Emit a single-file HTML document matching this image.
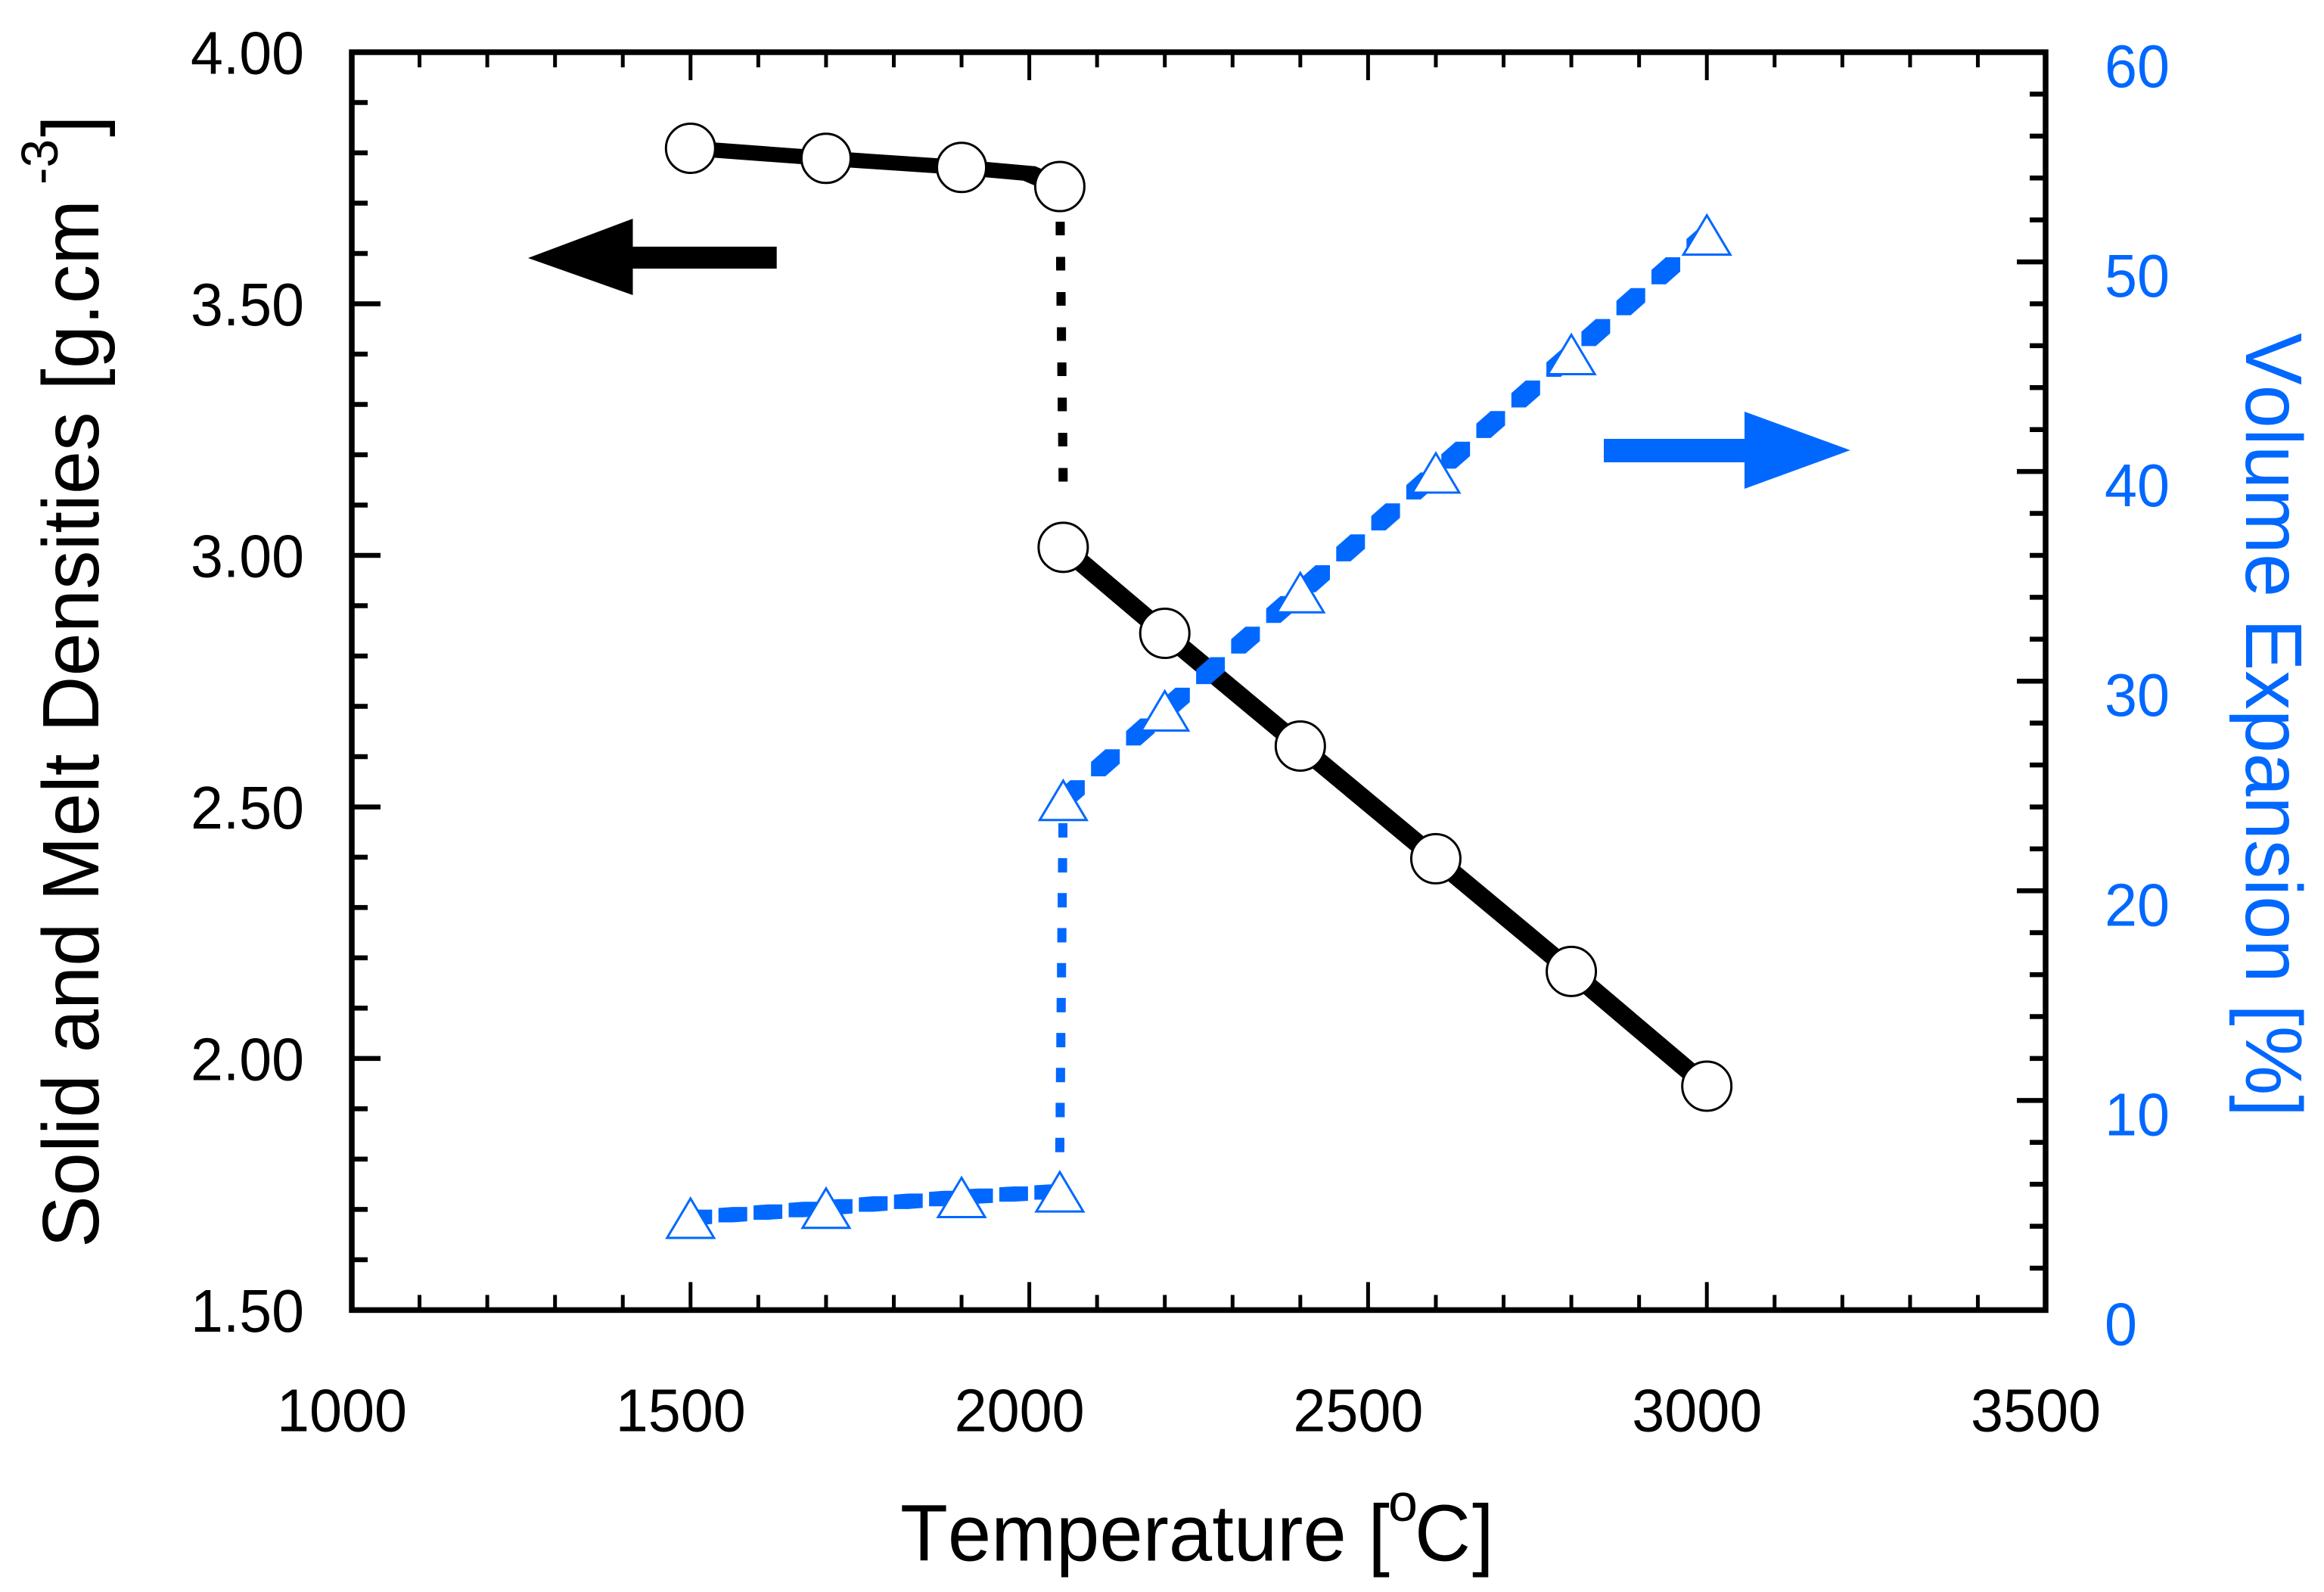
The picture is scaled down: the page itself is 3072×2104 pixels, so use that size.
<!DOCTYPE html>
<html lang="en">
<head>
<meta charset="utf-8">
<title>Solid and Melt Densities and Volume Expansion vs Temperature</title>
<style>
html,body{margin:0;padding:0;background:#fff;}
svg{display:block;}
text{font-family:"Liberation Sans",Arial,sans-serif;font-kerning:none;}
</style>
</head>
<body>
<svg id="chart" xmlns="http://www.w3.org/2000/svg" width="3072" height="2104" viewBox="0 0 3072 2104">
  <rect x="0" y="0" width="3072" height="2104" fill="#ffffff"/>
  <g id="ticks"></g>
  <rect x="465" y="69" width="2239" height="1662.4" fill="none" stroke="#000" stroke-width="7.5"/>
  <g id="labels" font-size="80"></g>
  <g id="marks"></g>

  <polygon points="698,341 836.5,289 836.5,326 1026.7,326 1026.7,355 836.5,355 836.5,390" fill="#000"/>
  <polygon points="2445.8,595 2306,544 2306,580 2120,580 2120,611 2306,611 2306,646" fill="#0068ff"/>

  <g fill="#000">
    <text font-size="106" x="1190" y="2062.5" textLength="647" lengthAdjust="spacingAndGlyphs">Temperature [</text>
    <text font-size="70" x="1835" y="2010">o</text>
    <text font-size="106" x="1870" y="2062.5" textLength="74" lengthAdjust="spacingAndGlyphs">C</text>
    <text font-size="106" x="1946" y="2062.5" textLength="28.6" lengthAdjust="spacingAndGlyphs">]</text>
  </g>

  <g transform="translate(130,1649) rotate(-90)" fill="#000">
    <text font-size="106" x="0" y="0" textLength="1385" lengthAdjust="spacingAndGlyphs">Solid and Melt Densities [g.cm</text>
    <text font-size="69" x="1405" y="-54" textLength="60" lengthAdjust="spacingAndGlyphs">-3</text>
    <text font-size="106" x="1468" y="0" textLength="28.6" lengthAdjust="spacingAndGlyphs">]</text>
  </g>

  <text font-size="106" fill="#0068ff" transform="translate(2969,440) rotate(90)" x="0" y="0" textLength="1036" lengthAdjust="spacingAndGlyphs">Volume Expansion [%]</text>
</svg>

<script>
// ---- chart data ----
const xTickLabels = ['1000', '1500', '2000', '2500', '3000', '3500'];
const leftTickLabels = ['1.50', '2.00', '2.50', '3.00', '3.50', '4.00'];
const rightTickLabels = ['0', '10', '20', '30', '40', '50', '60'];

const densityMarkerT = [1500, 1700, 1900, 2045, 2050, 2200, 2400, 2600, 2800, 3000];
const densityMarkerV = [3.809, 3.789, 3.771, 3.733, 3.016, 2.845, 2.621, 2.397, 2.173, 1.945];

const solidLineT = [1500, 1700, 1900, 2000, 2045];
const solidLineV = [3.809, 3.789, 3.771, 3.759, 3.733];
const meltLineT = [2050, 2200, 2400, 2600, 2800, 3000];
const meltLineV = [3.016, 2.845, 2.621, 2.397, 2.173, 1.945];
const densityJumpT = [2045, 2050];
const densityJumpV = [3.724, 3.145];

const expansionMarkerT = [1500, 1700, 1900, 2045, 2050, 2200, 2400, 2600, 2800, 3000];
const expansionMarkerV = [4.40, 4.88, 5.39, 5.66, 24.33, 28.6, 34.24, 39.95, 45.6, 51.3];

const solidExpansionT = [1500, 1700, 1900, 2045];
const solidExpansionV = [4.40, 4.88, 5.39, 5.66];
const meltExpansionT = [2050, 2200, 2400, 2600, 2800, 3000];
const meltExpansionV = [24.33, 28.6, 34.24, 39.95, 45.6, 51.3];
const expansionJumpT = [2045, 2050];
const expansionJumpV = [7.75, 24.33];

// ---- axis functions ----
const BLUE = '#0068ff';
const SVG_NS = 'http://www.w3.org/2000/svg';
const PLOT = { left: 465, right: 2704, top: 69, bottom: 1731.4 };
const X_MIN = 1000, X_MAX = 3500, L_MIN = 1.5, L_MAX = 4, R_MIN = 0, R_MAX = 60;

function xPos(t) { return PLOT.left + (t - X_MIN) / (X_MAX - X_MIN) * (PLOT.right - PLOT.left); }
function yLeft(v) { return PLOT.bottom - (v - L_MIN) / (L_MAX - L_MIN) * (PLOT.bottom - PLOT.top); }
function yRight(v) { return PLOT.bottom - (v - R_MIN) / (R_MAX - R_MIN) * (PLOT.bottom - PLOT.top); }

function make(tag, parent) {
  const el = document.createElementNS(SVG_NS, tag);
  parent.appendChild(el);
  return el;
}

// ---- ticks ----
const tickGroup = document.getElementById('ticks');
function tickLine(x1, y1, x2, y2, w, name) {
  const el = make('line', tickGroup);
  el.setAttribute('x1', x1);
  el.setAttribute('y1', y1);
  el.setAttribute('x2', x2);
  el.setAttribute('y2', y2);
  el.setAttribute('stroke', '#000');
  el.setAttribute('stroke-width', w);
  
  
}
for (let i = 1; i < 25; i++) {
  const t = X_MIN + i * 100;
  const len = (i % 5 === 0) ? 37 : 20;
  tickLine(xPos(t), PLOT.bottom, xPos(t), PLOT.bottom - len, 5, 'x-tick-bottom');
  tickLine(xPos(t), PLOT.top, xPos(t), PLOT.top + len, 5, 'x-tick-top');
}
for (let i = 1; i < 25; i++) {
  const v = L_MIN + i * 0.1;
  tickLine(PLOT.left, yLeft(v), PLOT.left + (i % 5 === 0 ? 38 : 21), yLeft(v), 6.5, 'left-y-tick');
}
for (let i = 1; i < 30; i++) {
  const v = R_MIN + i * 2;
  tickLine(PLOT.right, yRight(v), PLOT.right - (i % 5 === 0 ? 38 : 21), yRight(v), 6.5, 'right-y-tick');
}

// ---- tick labels ----
const labelGroup = document.getElementById('labels');
xTickLabels.forEach(function (s) {
  const el = make('text', labelGroup);
  el.setAttribute('x', xPos(Number(s)) - 13);
  el.setAttribute('y', 1891.5);
  el.setAttribute('text-anchor', 'middle');
  el.setAttribute('fill', '#000');
  el.setAttribute('textLength', 172);
  el.setAttribute('lengthAdjust', 'spacingAndGlyphs');
  
  
  el.textContent = s;
});
leftTickLabels.forEach(function (s) {
  const el = make('text', labelGroup);
  el.setAttribute('x', 402);
  el.setAttribute('y', yLeft(Number(s)) + 28.5);
  el.setAttribute('text-anchor', 'end');
  el.setAttribute('fill', '#000');
  el.setAttribute('textLength', 150);
  el.setAttribute('lengthAdjust', 'spacingAndGlyphs');
  
  
  el.textContent = s;
});
rightTickLabels.forEach(function (s) {
  const el = make('text', labelGroup);
  el.setAttribute('x', 2782);
  el.setAttribute('y', yRight(Number(s)) + 46);
  el.setAttribute('fill', BLUE);
  el.setAttribute('textLength', s.length * 43);
  el.setAttribute('lengthAdjust', 'spacingAndGlyphs');
  
  
  el.textContent = s;
});

// ---- marks ----
const markGroup = document.getElementById('marks');

function cross(o, a, b) {
  return (a[0] - o[0]) * (b[1] - o[1]) - (a[1] - o[1]) * (b[0] - o[0]);
}

function halfHull(pts) {
  const out = [];
  for (let i = 0; i < pts.length; i++) {
    while (out.length > 1 && cross(out[out.length - 2], out[out.length - 1], pts[i]) <= 0) {
      out.pop();
    }
    out.push(pts[i]);
  }
  out.pop();
  return out;
}

function hull(pts) {
  const sorted = pts.slice().sort(function (a, b) { return a[0] - b[0] || a[1] - b[1]; });
  return halfHull(sorted).concat(halfHull(sorted.slice().reverse()));
}

// A rectangular pen of size w x h swept from point a to point b.
function sweep(a, b, w, h, color, name) {
  const corners = [];
  [a, b].forEach(function (p) {
    corners.push([p[0] - w / 2, p[1] - h / 2]);
    corners.push([p[0] + w / 2, p[1] - h / 2]);
    corners.push([p[0] + w / 2, p[1] + h / 2]);
    corners.push([p[0] - w / 2, p[1] + h / 2]);
  });
  const el = make('polygon', markGroup);
  el.setAttribute('points', hull(corners).map(function (p) { return p[0].toFixed(1) + ',' + p[1].toFixed(1); }).join(' '));
  el.setAttribute('fill', color);
  
  
}

function toPoints(ts, vs, yFn) {
  return ts.map(function (t, i) { return [xPos(t), yFn(vs[i])]; });
}

function solidLine(pts, w, h, color, name) {
  for (let i = 0; i + 1 < pts.length; i++) {
    sweep(pts[i], pts[i + 1], w, h, color, name);
  }
}

// Dashes are paced by the larger of |dx|, |dy| as the plotted pen did.
// Uses a bounded index loop so it always terminates.
function dashedLine(pts, cycle, on, w, h, color, name) {
  let pos = 0;
  for (let i = 0; i + 1 < pts.length; i++) {
    const a = pts[i], b = pts[i + 1];
    const len = Math.max(Math.abs(b[0] - a[0]), Math.abs(b[1] - a[1]));
    if (len < 0.001) continue;
    const firstDash = Math.floor(pos / cycle);
    const lastDash = Math.floor((pos + len) / cycle);
    for (let k = firstDash; k <= lastDash; k++) {
      const start = Math.max(k * cycle, pos);
      const end = Math.min(k * cycle + on, pos + len);
      if (end > start) {
        const s = (start - pos) / len, e = (end - pos) / len;
        sweep([a[0] + (b[0] - a[0]) * s, a[1] + (b[1] - a[1]) * s],
              [a[0] + (b[0] - a[0]) * e, a[1] + (b[1] - a[1]) * e], w, h, color, name);
      }
    }
    pos += len;
  }
}

// black density lines
solidLine(toPoints(solidLineT, solidLineV, yLeft), 16, 19, '#000', 'solid-density-line');
solidLine(toPoints(meltLineT, meltLineV, yLeft), 16, 19, '#000', 'melt-density-line');
dashedLine(toPoints(densityJumpT, densityJumpV, yLeft), 46.5, 6, 12, 12, '#000', 'density-jump-dash');

// circle markers
densityMarkerT.forEach(function (t, i) {
  const el = make('circle', markGroup);
  el.setAttribute('cx', xPos(t));
  el.setAttribute('cy', yLeft(densityMarkerV[i]));
  el.setAttribute('r', 32.5);
  el.setAttribute('fill', '#fff');
  el.setAttribute('stroke', '#000');
  el.setAttribute('stroke-width', 3);
  
  
});

// blue expansion lines
dashedLine(toPoints(solidExpansionT, solidExpansionV, yRight), 46.4, 19, 19, 19, BLUE, 'solid-expansion-dash');
dashedLine(toPoints(expansionJumpT, expansionJumpV, yRight), 46.2, 7, 12, 12, BLUE, 'expansion-jump-dash');
dashedLine(toPoints(meltExpansionT, meltExpansionV, yRight), 46.3, 19, 19, 19, BLUE, 'melt-expansion-dash');

// triangle markers
expansionMarkerT.forEach(function (t, i) {
  const cx = xPos(t), cy = yRight(expansionMarkerV[i]);
  const el = make('polygon', markGroup);
  el.setAttribute('points', cx + ',' + (cy - 25.5) + ' ' + (cx + 31) + ',' + (cy + 26.5) + ' ' + (cx - 31) + ',' + (cy + 26.5));
  el.setAttribute('fill', '#fff');
  el.setAttribute('stroke', BLUE);
  el.setAttribute('stroke-width', 3);
  
  
});
</script>
</body>
</html>
